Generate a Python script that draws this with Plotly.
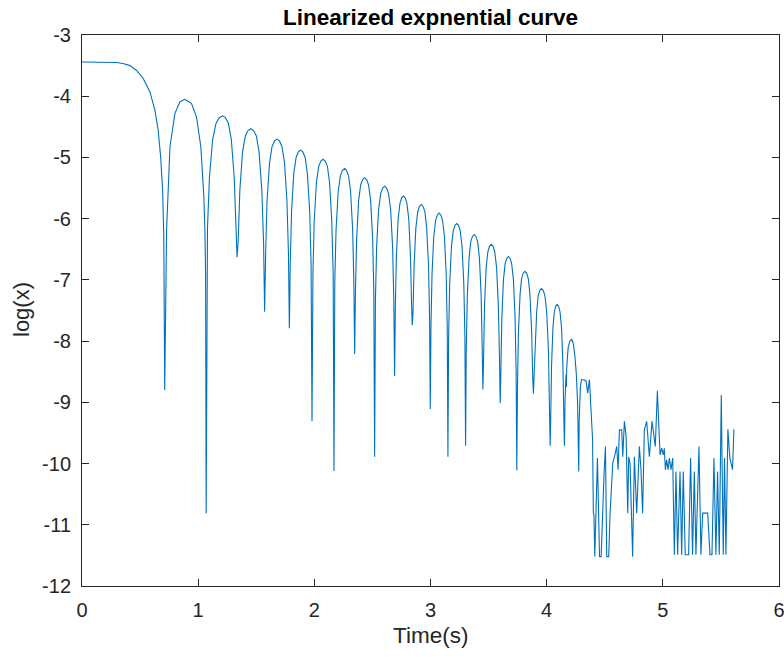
import plotly.graph_objects as go

# ---- data ----
time_s = [
    0.000, 0.100, 0.200, 0.300, 0.360, 0.413, 0.470, 0.527, 0.585, 0.628, 0.656, 0.677, 0.694, 0.704, 0.712,
    0.720, 0.728, 0.757, 0.800, 0.843, 0.886, 0.943, 0.986, 1.023, 1.049, 1.058, 1.064, 1.069,
    1.080, 1.097, 1.125, 1.154, 1.182, 1.210, 1.235, 1.260, 1.285, 1.310, 1.325, 1.335,
    1.344, 1.359, 1.382, 1.406, 1.429, 1.453, 1.477, 1.501, 1.524, 1.548, 1.563, 1.572,
    1.581, 1.593, 1.615, 1.636, 1.658, 1.679, 1.700, 1.721, 1.743, 1.764, 1.777, 1.785,
    1.793, 1.804, 1.823, 1.843, 1.862, 1.881, 1.901, 1.921, 1.940, 1.960, 1.972, 1.980,
    1.988, 1.999, 2.018, 2.037, 2.056, 2.075, 2.094, 2.113, 2.131, 2.150, 2.162, 2.169,
    2.176, 2.187, 2.205, 2.224, 2.242, 2.260, 2.277, 2.295, 2.312, 2.330, 2.340, 2.347,
    2.354, 2.364, 2.381, 2.399, 2.416, 2.433, 2.450, 2.467, 2.485, 2.502, 2.512, 2.519,
    2.526, 2.536, 2.553, 2.571, 2.588, 2.605, 2.622, 2.639, 2.657, 2.674, 2.684, 2.691,
    2.697, 2.706, 2.721, 2.737, 2.752, 2.767, 2.782, 2.797, 2.813, 2.828, 2.837, 2.843,
    2.849, 2.859, 2.874, 2.890, 2.905, 2.921, 2.936, 2.952, 2.967, 2.983, 2.992, 2.998,
    3.004, 3.013, 3.028, 3.044, 3.059, 3.074, 3.089, 3.104, 3.120, 3.135, 3.144, 3.150,
    3.156, 3.165, 3.180, 3.196, 3.211, 3.226, 3.241, 3.256, 3.272, 3.287, 3.296, 3.302,
    3.308, 3.317, 3.332, 3.346, 3.361, 3.376, 3.391, 3.406, 3.421, 3.436, 3.445, 3.451,
    3.457, 3.465, 3.479, 3.494, 3.508, 3.522, 3.538, 3.553, 3.569, 3.584, 3.594, 3.600,
    3.606, 3.614, 3.628, 3.642, 3.656, 3.670, 3.685, 3.699, 3.714, 3.728, 3.737, 3.743,
    3.749, 3.757, 3.771, 3.784, 3.798, 3.812, 3.827, 3.842, 3.856, 3.871, 3.880, 3.886,
    3.892, 3.900, 3.914, 3.927, 3.941, 3.955, 3.970, 3.985, 4.000, 4.015, 4.024, 4.030,
    4.035, 4.042, 4.054, 4.066, 4.078, 4.090, 4.103, 4.115, 4.128, 4.140, 4.148, 4.153,
    4.158, 4.163, 4.166, 4.170, 4.172, 4.185, 4.200, 4.216, 4.230, 4.243, 4.255, 4.266, 4.272, 4.276,
    4.280, 4.290, 4.300, 4.320, 4.339, 4.353, 4.368, 4.377, 4.385, 4.395, 4.402,
    4.407, 4.414, 4.437, 4.455, 4.469, 4.494, 4.506, 4.517, 4.534, 4.546, 4.569, 4.583,
    4.603, 4.615, 4.626, 4.646, 4.655, 4.669, 4.684, 4.698, 4.706, 4.718, 4.740, 4.755,
    4.775, 4.798, 4.812, 4.826, 4.841, 4.861, 4.884, 4.907, 4.935, 4.953, 4.976, 4.990,
    5.004, 5.013, 5.022, 5.033, 5.045, 5.056, 5.070, 5.085, 5.099, 5.113, 5.127, 5.148,
    5.162, 5.176, 5.193, 5.222, 5.239, 5.256, 5.271, 5.285, 5.311, 5.328, 5.343, 5.386,
    5.406, 5.423, 5.440, 5.457, 5.471, 5.486, 5.503, 5.520, 5.531, 5.543, 5.560, 5.577,
    5.600, 5.612,
]

log_x = [
    -3.44, -3.44, -3.44, -3.45, -3.47, -3.50, -3.58, -3.71, -3.93, -4.23, -4.56, -4.99, -5.53, -6.30, -8.80,
    -6.90, -6.19, -4.83, -4.28, -4.09, -4.05, -4.12, -4.34, -4.83, -5.64, -6.19, -6.90, -10.81,
    -6.17, -5.32, -4.70, -4.44, -4.35, -4.32, -4.35, -4.44, -4.70, -5.32, -6.17, -6.63,
    -6.38, -5.53, -4.91, -4.65, -4.56, -4.53, -4.56, -4.65, -4.91, -5.53, -6.38, -7.52,
    -6.55, -5.70, -5.08, -4.82, -4.73, -4.70, -4.73, -4.82, -5.08, -5.70, -6.55, -7.79,
    -6.73, -5.88, -5.26, -5.00, -4.91, -4.88, -4.91, -5.00, -5.26, -5.88, -6.73, -9.31,
    -6.88, -6.03, -5.41, -5.15, -5.06, -5.03, -5.06, -5.15, -5.41, -6.03, -6.88, -10.12,
    -7.03, -6.18, -5.56, -5.30, -5.21, -5.18, -5.21, -5.30, -5.56, -6.18, -7.03, -8.21,
    -7.18, -6.33, -5.71, -5.45, -5.36, -5.33, -5.36, -5.45, -5.71, -6.33, -7.18, -9.89,
    -7.32, -6.47, -5.85, -5.59, -5.50, -5.47, -5.50, -5.59, -5.85, -6.47, -7.32, -8.57,
    -7.48, -6.63, -6.01, -5.75, -5.66, -5.63, -5.66, -5.75, -6.01, -6.63, -7.40, -7.74,
    -7.55, -6.77, -6.15, -5.89, -5.80, -5.77, -5.80, -5.89, -6.15, -6.77, -7.62, -9.11,
    -7.76, -6.91, -6.29, -6.03, -5.94, -5.91, -5.94, -6.03, -6.29, -6.91, -7.76, -9.89,
    -7.93, -7.08, -6.46, -6.20, -6.11, -6.08, -6.11, -6.20, -6.46, -7.08, -7.93, -9.71,
    -8.11, -7.26, -6.64, -6.38, -6.29, -6.26, -6.29, -6.38, -6.64, -7.26, -8.11, -8.79,
    -8.27, -7.42, -6.80, -6.54, -6.45, -6.42, -6.45, -6.54, -6.80, -7.42, -8.27, -9.01,
    -8.47, -7.62, -7.00, -6.74, -6.65, -6.62, -6.65, -6.74, -7.00, -7.62, -8.47, -10.11,
    -8.71, -7.86, -7.24, -6.98, -6.89, -6.86, -6.89, -6.98, -7.24, -7.86, -8.60, -8.86,
    -8.55, -8.14, -7.52, -7.26, -7.17, -7.14, -7.17, -7.26, -7.52, -8.14, -8.99, -9.71,
    -9.25, -8.40, -7.78, -7.52, -7.43, -7.40, -7.43, -7.52, -7.78, -8.40, -9.25, -9.71,
    -9.00, -8.60, -8.55, -8.75, -8.45, -8.10, -8.00, -7.97, -8.05, -8.25, -8.53, -9.00, -9.60, -10.13,
    -9.30, -8.75, -8.63, -8.63, -8.65, -8.85, -8.63, -8.90, -9.25, -9.60, -10.81,
    -10.84, -11.52, -9.91, -11.52, -11.52, -10.16, -9.72, -11.52, -11.52, -10.81, -9.99, -9.89,
    -9.72, -10.10, -9.45, -9.45, -9.89, -9.31, -9.56, -10.81, -9.89, -10.00, -11.52, -9.89,
    -10.81, -9.72, -10.10, -10.81, -9.45, -9.31, -9.89, -9.31, -9.72, -8.81, -9.86, -9.75,
    -9.86, -9.75, -10.10, -9.94, -10.10, -9.91, -10.10, -9.91, -11.49, -10.13, -11.49, -10.13,
    -11.49, -10.13, -11.49, -11.49, -9.91, -11.49, -10.13, -11.49, -9.72, -11.49, -10.81, -10.81,
    -11.49, -11.49, -9.91, -11.49, -10.13, -11.49, -8.88, -11.49, -9.91, -11.49, -9.44, -9.91,
    -10.10, -9.44,
]

x_ticks = [0, 1, 2, 3, 4, 5, 6]
y_ticks = [-12, -11, -10, -9, -8, -7, -6, -5, -4, -3]

title_text = "Linearized expnential curve"
x_label = "Time(s)"
y_label = "log(x)"

FONT = "Liberation Sans, Arial, Helvetica, sans-serif"
AX = "#262626"

fig = go.Figure()
fig.add_trace(go.Scatter(x=time_s, y=log_x, mode="lines",
                         line=dict(color="#0072BD", width=1.1), showlegend=False))

axis_common = dict(showline=True, linecolor=AX, linewidth=1, mirror="ticks",
                   ticks="inside", ticklen=7, tickcolor=AX, tickwidth=1,
                   showgrid=False, zeroline=False, ticklabeloverflow="allow",
                   automargin=False,
                   tickfont=dict(family=FONT, size=20, color=AX))

fig.update_xaxes(range=[0, 6], tickmode="array", tickvals=x_ticks,
                 ticktext=[str(v) for v in x_ticks], ticklabelstandoff=6, **axis_common)
fig.update_yaxes(range=[-12, -3], tickmode="array", tickvals=y_ticks,
                 ticktext=[str(v) for v in y_ticks], ticklabelstandoff=6, **axis_common)

fig.update_layout(
    width=784, height=657,
    margin=dict(l=82, r=5, t=35, b=71),
    paper_bgcolor="white", plot_bgcolor="white",
    annotations=[
        dict(text="<b>" + title_text + "</b>", xref="paper", yref="paper",
             x=0.5, y=1.031, xanchor="center", yanchor="middle", showarrow=False,
             font=dict(family=FONT, size=22.5, color="#000000")),
        dict(text=x_label, xref="paper", yref="paper", x=0.5, y=-0.0907,
             xanchor="center", yanchor="middle", showarrow=False,
             font=dict(family=FONT, size=22.5, color=AX)),
        dict(text=y_label, xref="paper", yref="paper", x=-0.086, y=0.501,
             xanchor="center", yanchor="middle", textangle=-90, showarrow=False,
             font=dict(family=FONT, size=22, color=AX)),
    ],
)

fig.write_html("out.html")
